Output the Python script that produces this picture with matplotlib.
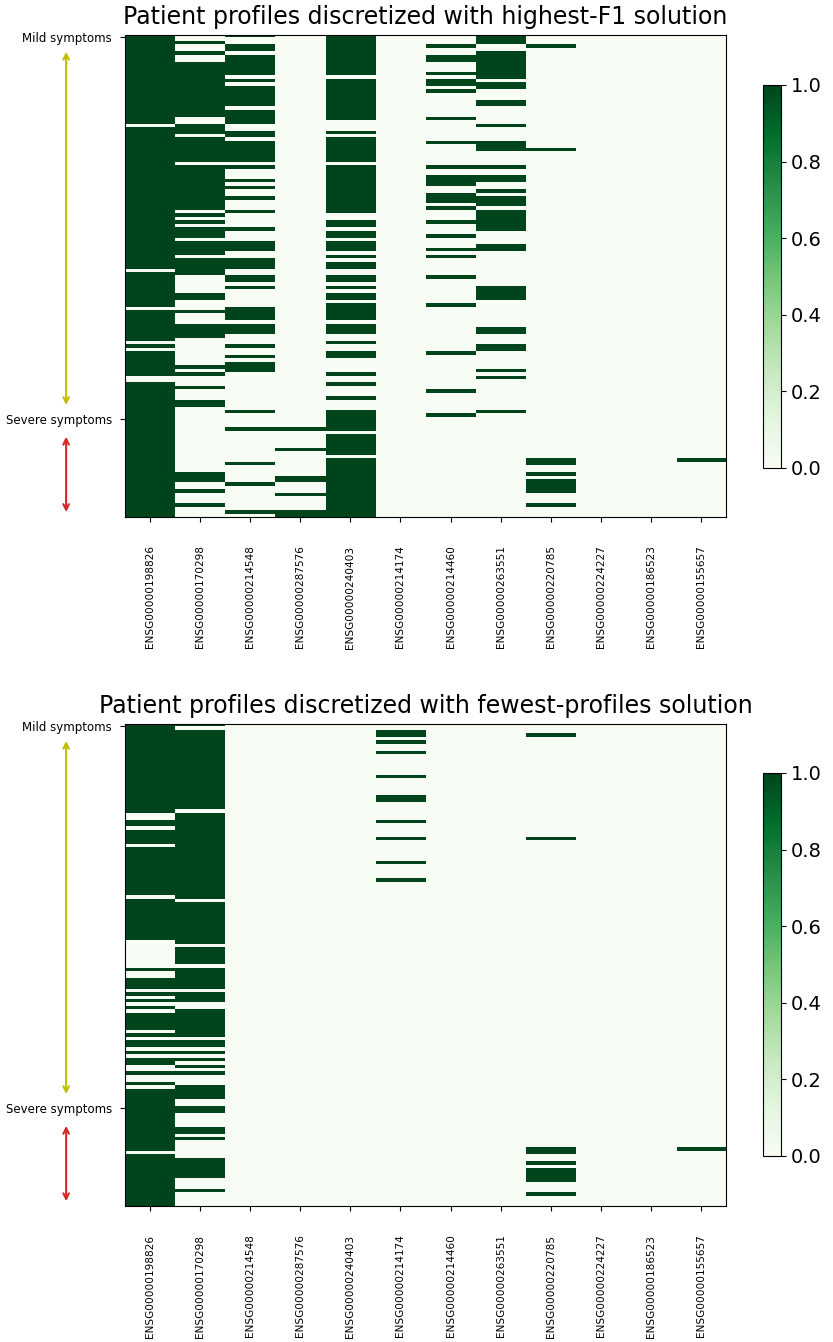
import numpy as np
import matplotlib
matplotlib.use("Agg")
import matplotlib.pyplot as plt

genes = ['ENSG00000198826', 'ENSG00000170298', 'ENSG00000214548', 'ENSG00000287576',
         'ENSG00000240403', 'ENSG00000214174', 'ENSG00000214460', 'ENSG00000263551',
         'ENSG00000220785', 'ENSG00000224227', 'ENSG00000186523', 'ENSG00000155657']
n_patients = 140
severe_start = 111
titles = ['Patient profiles discretized with highest-F1 solution',
          'Patient profiles discretized with fewest-profiles solution']

# runs of patients (start, stop) where the gene is discretized to 1, one list per gene
f1_runs = [
    [(0, 26), (27, 68), (69, 79), (80, 89), (90, 91), (92, 99), (101, 140)],
    [(2, 3), (5, 6), (8, 24), (26, 29), (30, 37), (38, 51), (52, 53), (54, 55), (56, 59),
     (60, 64), (65, 70), (75, 77), (80, 81), (84, 88), (96, 97), (98, 99), (102, 103),
     (106, 108), (127, 130), (132, 133), (136, 137)],
    [(0, 1), (3, 5), (6, 12), (13, 14), (15, 21), (22, 26), (28, 30), (31, 37), (38, 39),
     (42, 43), (44, 45), (47, 48), (51, 52), (56, 57), (60, 63), (65, 68), (70, 72),
     (73, 74), (79, 83), (84, 87), (90, 91), (93, 94), (95, 98), (109, 110), (114, 115),
     (124, 125), (130, 131), (138, 139)],
    [(114, 115), (120, 121), (128, 130), (133, 134), (138, 140)],
    [(0, 12), (13, 25), (28, 29), (30, 37), (38, 52), (54, 56), (57, 59), (60, 63), (64, 65),
     (66, 68), (70, 72), (73, 74), (75, 77), (78, 83), (84, 87), (89, 90), (92, 94),
     (98, 99), (101, 102), (105, 106), (109, 115), (116, 122), (123, 140)],
    [],
    [(3, 4), (6, 8), (11, 12), (13, 15), (16, 17), (24, 25), (31, 32), (38, 39), (41, 44),
     (46, 49), (50, 51), (54, 55), (58, 59), (62, 63), (64, 65), (70, 71), (78, 79),
     (92, 93), (103, 104), (110, 111)],
    [(0, 3), (5, 13), (14, 16), (19, 21), (26, 27), (31, 34), (38, 39), (41, 43), (45, 46),
     (47, 50), (51, 57), (61, 63), (73, 77), (85, 87), (90, 92), (97, 98), (99, 100),
     (109, 110)],
    [(3, 4), (33, 34), (123, 125), (127, 128), (129, 133), (136, 137)],
    [],
    [],
    [(123, 124)],
]

fewest_runs = [
    [(0, 26), (28, 30), (31, 35), (36, 50), (51, 63), (71, 72), (74, 77), (78, 79), (80, 81),
     (82, 83), (84, 89), (90, 91), (92, 94), (95, 96), (97, 99), (101, 102), (104, 105),
     (106, 124), (125, 140)],
    [(0, 1), (2, 25), (26, 51), (52, 64), (65, 70), (71, 77), (78, 81), (83, 91), (92, 94),
     (95, 96), (97, 98), (99, 100), (101, 102), (105, 109), (111, 113), (117, 119),
     (120, 121), (126, 132), (135, 136)],
    [],
    [],
    [],
    [(2, 4), (5, 6), (8, 9), (15, 16), (21, 23), (28, 29), (33, 34), (40, 41), (45, 46)],
    [],
    [],
    [(3, 4), (33, 34), (123, 125), (127, 128), (129, 133), (136, 137)],
    [],
    [],
    [(123, 124)],
]


def build(runs):
    m = np.zeros((n_patients, len(genes)))
    for j, col in enumerate(runs):
        for a, b in col:
            m[a:b, j] = 1
    return m


fig = plt.figure(figsize=(8.33, 13.42), dpi=100)
ax_pos = [[0.1501, 0.6148, 0.7215, 0.3592], [0.1501, 0.1013, 0.7215, 0.3592]]
cb_pos = [[0.916, 0.6513, 0.0216, 0.2854], [0.916, 0.1386, 0.0216, 0.2854]]

for k, runs in enumerate([f1_runs, fewest_runs]):
    ax = fig.add_axes(ax_pos[k])
    im = ax.imshow(build(runs), cmap='Greens', vmin=0, vmax=1, aspect='auto',
                   interpolation='nearest')
    ax.set_title(titles[k], fontsize=17, pad=8)
    ax.set_xticks(range(len(genes)))
    ax.set_xticklabels(genes, rotation=90, fontsize=7.6)
    ax.tick_params(axis='x', pad=17)
    ax.set_yticks([0, severe_start])
    ax.set_yticklabels(['Mild symptoms', 'Severe symptoms'], fontsize=8.5)
    ax.tick_params(axis='y', pad=6)

    ax.annotate('', xy=(-0.098, 3.6), xytext=(-0.098, 107.8),
                xycoords=('axes fraction', 'data'),
                arrowprops=dict(arrowstyle='<->', color='y', lw=1.5), annotation_clip=False)
    ax.annotate('', xy=(-0.098, 115.4), xytext=(-0.098, 138.9),
                xycoords=('axes fraction', 'data'),
                arrowprops=dict(arrowstyle='<->', color='tab:red', lw=1.5), annotation_clip=False)

    cax = fig.add_axes(cb_pos[k])
    cb = fig.colorbar(im, cax=cax)
    cb.set_ticks([0, 0.2, 0.4, 0.6, 0.8, 1.0])
    cb.ax.tick_params(labelsize=14)

fig.savefig('out.png', dpi=100)
